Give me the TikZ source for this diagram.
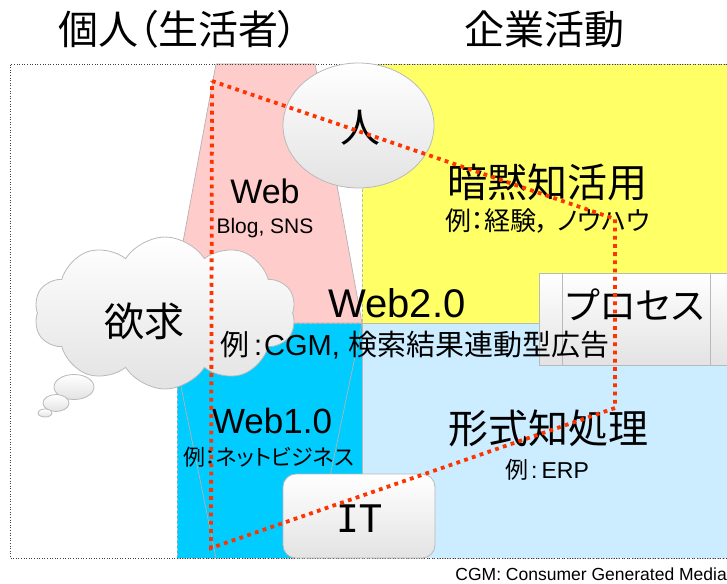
\documentclass[tikz,border=0pt]{standalone}
\usepackage{fontspec}
\setmainfont{Liberation Sans}
\newfontfamily\jp{Noto Sans CJK JP}
\newfontfamily\jpp[RawFeature=+palt]{Noto Sans CJK JP}
\newfontfamily\itfont{DejaVu Sans Mono}
\usetikzlibrary{shapes.symbols,shapes.geometric,calc}
\definecolor{yel}{RGB}{255,255,102}
\definecolor{lblue}{RGB}{204,236,255}
\definecolor{cyanb}{RGB}{0,204,255}
\definecolor{pinkr}{RGB}{255,204,204}
\definecolor{redd}{RGB}{255,51,0}
\newcommand{\fsz}[1]{\fontsize{#1}{#1}\selectfont}
\begin{document}
\begin{tikzpicture}[x=1pt,y=-1pt,
  region/.style={draw=gray!55, line width=0.5pt, densely dashed},
  outline/.style={draw=gray!60, line width=0.7pt},
  shadebox/.style={draw=gray!55, line width=0.8pt, top color=white, bottom color=black!11},
  lbl/.style={inner sep=0pt, text=black},
  route/.style={draw=redd, line width=3.8pt, dash pattern=on 3.8pt off 4.4pt},
]
\clip (0,0) rectangle (727,583);
\fill[white] (0,0) rectangle (727,583);
% regions
\filldraw[fill=lblue, region] (362,323) rectangle (740,558);
\filldraw[fill=yel, region] (362,64) rectangle (740,323);
\filldraw[fill=cyanb, region] (177,323) rectangle (362,558);
\filldraw[fill=pinkr, outline] (216,64) -- (315,64) -- (362,323) -- (168,323) -- cycle;
\draw[outline] (168,323) -- (216,558);
\draw[outline] (362,323) -- (313,558);
% outer frame
\draw[black!75, line width=0.6pt, dotted] (740,64) -- (10,64) -- (10,558) -- (740,558);
% shapes
\node[ellipse, shadebox, minimum width=151pt, minimum height=125pt, inner sep=0pt] (person) at (358.5,125.5) {};
\node[ellipse, shadebox, minimum width=40pt, minimum height=25pt, inner sep=0pt] (bub1) at (74,387) {};
\node[ellipse, shadebox, minimum width=26pt, minimum height=17pt, inner sep=0pt] (bub2) at (56,403) {};
\node[ellipse, shadebox, minimum width=14pt, minimum height=8pt, inner sep=0pt] (bub3) at (45,413) {};
\node[cloud, cloud puffs=10, cloud puff arc=115, aspect=1.65, shadebox, minimum width=262pt, minimum height=152pt, inner sep=0pt] (desire) at (165,313) {};
\node[rectangle, shadebox, minimum width=195pt, minimum height=92pt, inner sep=0pt] (proc) at (636.5,319) {};
\draw[draw=gray!55, line width=0.8pt] ($(proc.north west)+(24,0)$) -- ($(proc.south west)+(24,0)$);
\draw[draw=gray!55, line width=0.8pt] ($(proc.north east)+(-24,0)$) -- ($(proc.south east)+(-24,0)$);
\node[rectangle, rounded corners=13pt, shadebox, minimum width=152pt, minimum height=84pt, inner sep=0pt] (itbox) at (359,516) {};
% titles
\node[lbl, font=\jpp\fsz{40}] (title1) at (178,29) {個人（生活者）};
\node[lbl, font=\jp\fsz{40}] (title2) at (544,29) {企業活動};
% texts
\node[lbl, font=\jp\fsz{40}] (persont) at (360,128) {人};
\node[lbl, font=\jp\fsz{40}] (desiret) at (144,321) {欲求};
\node[lbl, font=\jpp\fsz{37}] (proct) at (635,305) {プロセス};
\node[lbl, font=\itfont\fsz{38}] (itt) at (359,519) {IT};
\node[lbl, anchor=base, font=\fsz{34}] (web) at (265,203) {Web};
\node[lbl, anchor=base, font=\fsz{21}] (blog) at (265,233) {Blog, SNS};
\node[lbl, anchor=base, font=\fsz{40}] (web2) at (397,317) {Web2.0};
\node[lbl, anchor=base west, font=\fsz{29}] (ex2) at (220,355) {{\jp 例}\kern5pt:\kern2pt CGM, {\jp 検索結果連動型広告}};
\node[lbl, anchor=base, font=\fsz{35}] (web1) at (272,433) {Web1.0};
\node[lbl, anchor=base west, font=\jpp\fsz{22}] (ex1) at (183,465) {例：ネットビジネス};
\node[lbl, font=\jp\fsz{40}] (tacit) at (547,182) {暗黙知活用};
\node[lbl, anchor=base west, font=\jpp\fsz{26}] (extacit) at (445,230) {例：経験，\kern8pt ノウハウ};
\node[lbl, font=\jp\fsz{40}] (formal) at (548,428) {形式知処理};
\node[lbl, anchor=base west, font=\fsz{23}] (exformal) at (505,478) {{\jp 例}\kern3pt:\kern4pt ERP};
\node[lbl, anchor=base east, font=\fsz{17.5}] (note) at (727,580) {CGM: Consumer Generated Media};
% red route
\coordinate (r1) at (212,81);
\coordinate (r2) at (615,219);
\coordinate (r3) at (615,408);
\coordinate (r4) at (211,548);
\draw[route] (r1) -- (r2) -- (r3) -- (r4) -- cycle;
\end{tikzpicture}
\end{document}
